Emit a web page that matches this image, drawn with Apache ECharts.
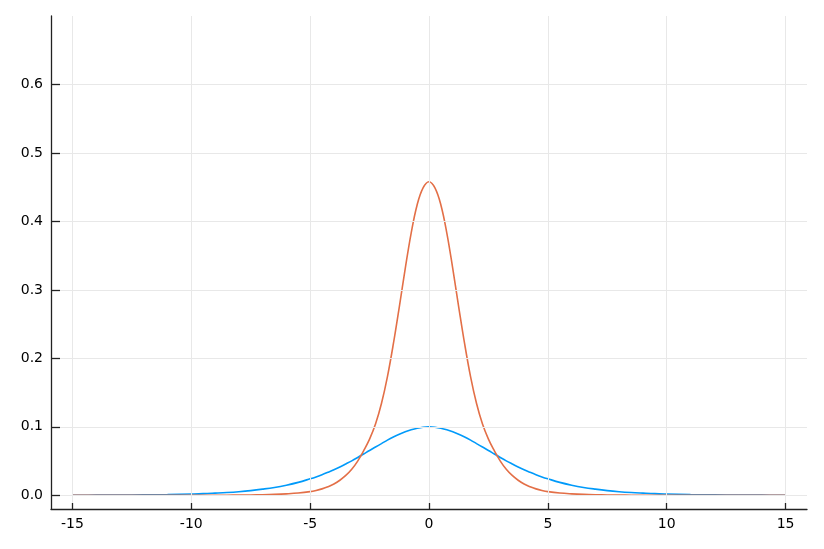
<!DOCTYPE html>
<html>
<head>
<meta charset="utf-8">
<script src="https://cdn.jsdelivr.net/npm/echarts@6/dist/echarts.min.js"></script>
<style>
  html, body { margin: 0; padding: 0; background: #fff; }
  #chart { width: 824px; height: 549px; }
</style>
</head>
<body>
<div id="chart"></div>
<script>
// x positions (finer in the middle where the curves bend)
const xs = [
  -15, -14, -13, -12, -11, -10, -9.5, -9, -8.5, -8, -7.5, -7, -6.5, -6, -5.5,
  -5, -4.75, -4.5, -4.25, -4, -3.75, -3.5, -3.25, -3, -2.75, -2.5, -2.25, -2, -1.75, -1.5, -1.25, -1, -0.75, -0.5, -0.25,
  0,
  0.25, 0.5, 0.75, 1, 1.25, 1.5, 1.75, 2, 2.25, 2.5, 2.75, 3, 3.25, 3.5, 3.75, 4, 4.25, 4.5, 4.75, 5,
  5.5, 6, 6.5, 7, 7.5, 8, 8.5, 9, 9.5, 10, 11, 12, 13, 14, 15
];

// wide curve (blue)
const blueVals = [
  0.00013, 0.00022, 0.00038, 0.00065, 0.0011, 0.0019, 0.0024, 0.0032, 0.0041, 0.0053, 0.0069, 0.0090, 0.0115, 0.0148, 0.0189,
  0.0241, 0.0269, 0.0301, 0.0336, 0.0373, 0.0414, 0.0458, 0.0503, 0.0552, 0.0603, 0.0655, 0.0705, 0.0755, 0.0806, 0.0852, 0.0893, 0.0928, 0.0957, 0.098, 0.0995,
  0.1,
  0.0995, 0.098, 0.0957, 0.0928, 0.0893, 0.0852, 0.0806, 0.0755, 0.0705, 0.0655, 0.0603, 0.0552, 0.0503, 0.0458, 0.0414, 0.0373, 0.0336, 0.0301, 0.0269, 0.0241,
  0.0189, 0.0148, 0.0115, 0.0090, 0.0069, 0.0053, 0.0041, 0.0032, 0.0024, 0.0019, 0.0011, 0.00065, 0.00038, 0.00022, 0.00013
];

// narrow curve (orange)
const orangeVals = [
  0, 0, 0, 0, 0.00001, 0.00004, 0.00006, 0.0001, 0.00018, 0.0003, 0.0005, 0.0008, 0.0013, 0.0021, 0.0033,
  0.0054, 0.0071, 0.0094, 0.0125, 0.0165, 0.022, 0.029, 0.038, 0.050, 0.065, 0.082, 0.104, 0.134, 0.173, 0.221, 0.275, 0.331, 0.383, 0.424, 0.449,
  0.458,
  0.449, 0.424, 0.383, 0.331, 0.275, 0.221, 0.173, 0.134, 0.104, 0.082, 0.065, 0.050, 0.038, 0.029, 0.022, 0.0165, 0.0125, 0.0094, 0.0071, 0.0054,
  0.0033, 0.0021, 0.0013, 0.0008, 0.0005, 0.0003, 0.00018, 0.0001, 0.00006, 0.00004, 0.00001, 0, 0, 0, 0
];

const xTicks = [-15, -10, -5, 0, 5, 10, 15];
const yTicks = [0, 0.1, 0.2, 0.3, 0.4, 0.5, 0.6];

const chart = echarts.init(document.getElementById('chart'));

const labelStyle = { color: '#000', fontSize: 14, fontFamily: 'DejaVu Sans' };
const gridColor = '#e8e8e8';

chart.setOption({
  animation: false,
  backgroundColor: '#fff',
  grid: { left: 51, right: 17, top: 16, bottom: 40 },
  xAxis: {
    type: 'value',
    z: 10,
    min: -15.9,
    max: 15.9,
    axisLine: { show: true, onZero: false, lineStyle: { color: '#222', width: 1.3 } },
    axisTick: { show: true, inside: true, length: 6, customValues: xTicks, lineStyle: { color: '#222', width: 1.3 } },
    axisLabel: Object.assign({ margin: 8, customValues: xTicks, formatter: (v) => String(v) }, labelStyle),
    splitLine: { show: false }
  },
  yAxis: {
    type: 'value',
    z: 10,
    min: -0.02,
    max: 0.7,
    axisLine: { show: true, onZero: false, lineStyle: { color: '#222', width: 1.3 } },
    axisTick: { show: true, inside: true, length: 9, customValues: yTicks, lineStyle: { color: '#222', width: 1.3 } },
    axisLabel: Object.assign({ margin: 8, customValues: yTicks, formatter: (v) => v.toFixed(1) }, labelStyle),
    splitLine: { show: false }
  },
  series: [
    {
      // grid lines at the tick positions
      type: 'line',
      data: [],
      z: 1,
      silent: true,
      markLine: {
        silent: true,
        symbol: ['none', 'none'],
        label: { show: false },
        lineStyle: { type: 'solid', color: gridColor, width: 1 },
        data: xTicks.map((v) => ({ xAxis: v })).concat(yTicks.map((v) => ({ yAxis: v })))
      }
    },
    {
      name: 'y1',
      type: 'line',
      z: 2,
      data: xs.map((x, i) => [x, blueVals[i]]),
      showSymbol: false,
      smooth: 0.4,
      lineStyle: { color: '#009AFA', width: 1.6 },
      itemStyle: { color: '#009AFA' }
    },
    {
      name: 'y2',
      type: 'line',
      z: 3,
      data: xs.map((x, i) => [x, orangeVals[i]]),
      showSymbol: false,
      smooth: 0.4,
      lineStyle: { color: '#E36F47', width: 1.6 },
      itemStyle: { color: '#E36F47' }
    }
  ]
});
</script>
</body>
</html>
